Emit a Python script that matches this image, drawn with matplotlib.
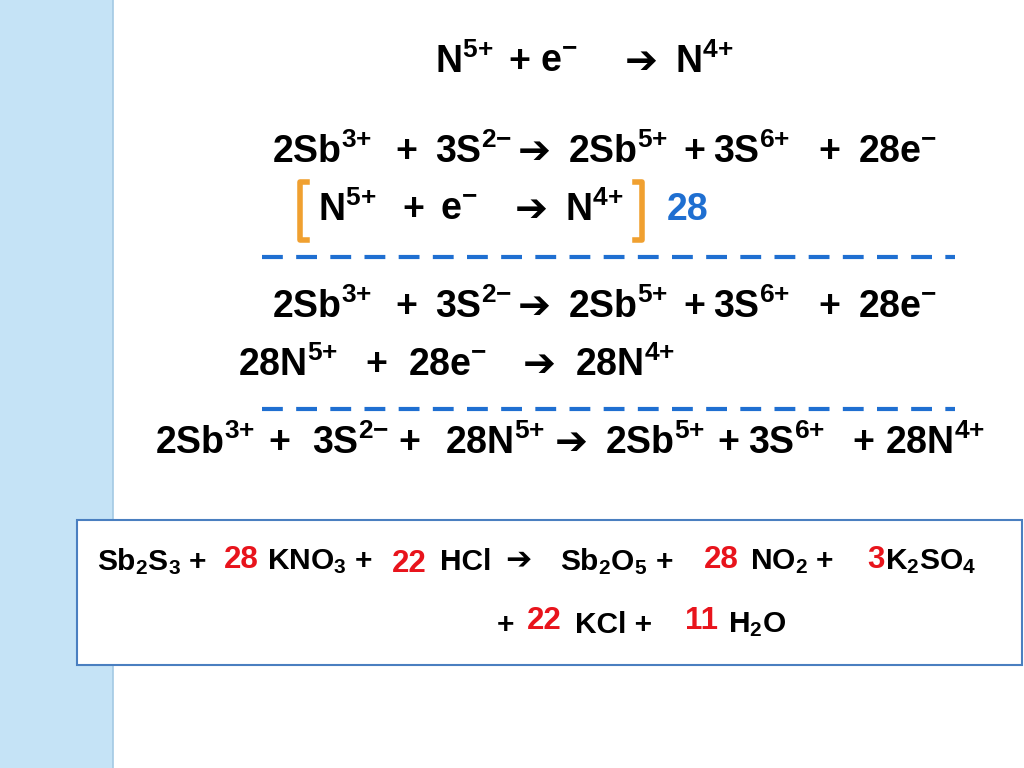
import matplotlib
matplotlib.use("Agg")
import matplotlib.pyplot as plt
from matplotlib.patches import Rectangle

plt.rcParams['mathtext.fontset'] = 'custom'
plt.rcParams['mathtext.rm'] = 'Liberation Sans:bold'
plt.rcParams['mathtext.it'] = 'Liberation Sans:bold'
plt.rcParams['mathtext.bf'] = 'Liberation Sans:bold'
plt.rcParams['mathtext.default'] = 'rm'

AR = 'ARROW'
def sup(s): return '$^{' + s.replace('+', '{+}').replace('-', '{-}') + '}$'
def sub(s): return '$_{' + s + '}$'

# each line: y, list of (text, x)
main_lines = [
    (62, [('N' + sup('5+'), 435), ('+', 508), ('e' + sup('-'), 540), (AR, 625), ('N' + sup('4+'), 675)]),
    (152, [('2Sb' + sup('3+'), 272), ('+', 395), ('3S' + sup('2-'), 435), (AR, 518), ('2Sb' + sup('5+'), 568),
           ('+', 683), ('3S' + sup('6+'), 713), ('+', 818), ('28e' + sup('-'), 858)]),
    (210, [('N' + sup('5+'), 318), ('+', 402), ('e' + sup('-'), 440), (AR, 515), ('N' + sup('4+'), 565)]),
    (307, [('2Sb' + sup('3+'), 272), ('+', 395), ('3S' + sup('2-'), 435), (AR, 518), ('2Sb' + sup('5+'), 568),
           ('+', 683), ('3S' + sup('6+'), 713), ('+', 818), ('28e' + sup('-'), 858)]),
    (365, [('28N' + sup('5+'), 238), ('+', 365), ('28e' + sup('-'), 408), (AR, 523), ('28N' + sup('4+'), 575)]),
    (443, [('2Sb' + sup('3+'), 155), ('+', 268), ('3S' + sup('2-'), 312), ('+', 398), ('28N' + sup('5+'), 445),
           (AR, 555), ('2Sb' + sup('5+'), 605), ('+', 717), ('3S' + sup('6+'), 748), ('+', 852),
           ('28N' + sup('4+'), 885)]),
]
multiplier = ('28', 667, 210)
box_parts = [
    ('Sb' + sub('2') + 'S' + sub('3') + ' +', 97, 562, 'black'), ('28', 224, 560, 'red'),
    ('KNO' + sub('3') + ' +', 267, 562, 'black'), ('22', 392, 564, 'red'),
    ('HCl', 440, 562, 'black'), (AR, 505, 560, 'black'),
    ('Sb' + sub('2') + 'O' + sub('5') + ' +', 560, 562, 'black'), ('28', 704, 560, 'red'),
    ('NO' + sub('2') + ' +', 750, 562, 'black'), ('3', 867, 560, 'red'),
    ('K' + sub('2') + 'SO' + sub('4'), 885, 562, 'black'),
    ('+', 497, 625, 'black'), ('22', 527, 621, 'red'),
    ('KCl +', 575, 625, 'black'), ('11', 685, 621, 'red'),
    ('H' + sub('2') + 'O', 728, 625, 'black'),
]

W, H = 1024, 768
fig = plt.figure(figsize=(10.24, 7.68), dpi=100)
def fx(x): return x / W
def fy(y): return 1 - y / H

fig.patches.append(Rectangle((0, 0), fx(112), 1, transform=fig.transFigure,
                             facecolor='#c5e3f6', edgecolor='none', zorder=0))
fig.add_artist(plt.Line2D([fx(112), fx(112)], [0, 1], color='#a9cde6', lw=2, zorder=0))

def draw(s, x, y, fs, color='black', z=3):
    if s == AR:
        fig.text(fx(x), fy(y), '➔', fontsize=fs * 1.05, family='DejaVu Sans', weight='bold',
                 color=color, va='center', ha='left', zorder=z)
    else:
        fig.text(fx(x), fy(y), s, fontsize=fs, family='Liberation Sans', weight='bold',
                 color=color, va='center', ha='left', zorder=z)

for y, segs in main_lines:
    for s, x in segs:
        draw(s, x, y, 27)
draw(multiplier[0], multiplier[1], multiplier[2], 27, '#1f6fd1')

orange = '#f0a030'
for xs, xe in [(307, 300), (635, 642)]:
    fig.add_artist(plt.Line2D([fx(xs), fx(xe), fx(xe), fx(xs)], [fy(182), fy(182), fy(240), fy(240)],
                              color=orange, lw=4))
for y in (257, 409):
    fig.add_artist(plt.Line2D([fx(262), fx(955)], [fy(y), fy(y)], color='#1f6fd1', lw=3,
                              dashes=(5, 3.2)))

fig.patches.append(Rectangle((fx(77), fy(665)), fx(1022) - fx(77), fy(520) - fy(665),
                             transform=fig.transFigure, facecolor='white', edgecolor='#4a7fc0',
                             lw=1.5, zorder=2))
for s, x, y, c in box_parts:
    fs = 22.5 if c == 'red' else 21.5
    draw(s, x, y, fs, 'black' if c == 'black' else '#e8141c')

fig.savefig('out.png', dpi=100)
